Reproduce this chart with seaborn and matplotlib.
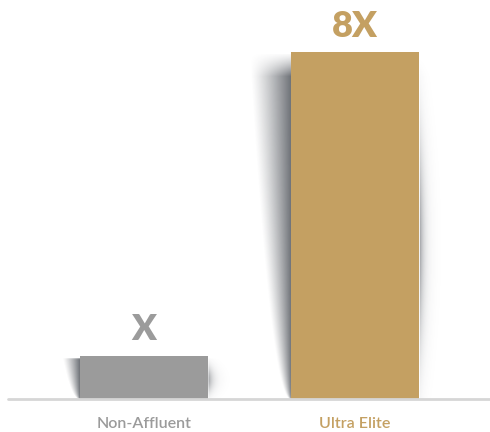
import numpy as np
import matplotlib
matplotlib.use("Agg")
import matplotlib.pyplot as plt
import seaborn as sns

# Chart data
categories = ["Non-Affluent", "Ultra Elite"]
values = [1, 8]
bar_colors = ["#9b9b9b", "#c4a062"]
label_colors = ["#9b9b9b", "#c4a062"]
value_labels = ["X" if v == 1 else f"{v}X" for v in values]

sns.set_theme(style="white")
plt.rcParams["font.family"] = ["Lato", "DejaVu Sans"]

W, H, DPI = 490, 432, 100
fig = plt.figure(figsize=(W / DPI, H / DPI), dpi=DPI)
fig.patch.set_facecolor("white")

ax_left, ax_bottom = 8, 33
ax_w, ax_h = W - ax_left, H - ax_bottom
ax = fig.add_axes([ax_left / W, ax_bottom / H, ax_w / W, ax_h / H])

sns.barplot(x=categories, y=values, hue=categories, palette=bar_colors,
            width=0.607, saturation=1, legend=False, ax=ax, zorder=3,
            linewidth=0, edgecolor="none")

unit_x = 211.0   # pixels between category centres
unit_y = 43.375  # pixels per value unit
x0 = -(144 - ax_left) / unit_x
ax.set_xlim(x0, x0 + ax_w / unit_x)
ax.set_ylim(0, ax_h / unit_y)

for s in ax.spines.values():
    s.set_visible(False)
ax.set_yticks([])
ax.axhline(0, color="#d6d6d6", lw=2, zorder=4, clip_on=False)

ax.set_xticks(range(len(categories)))
ax.set_xticklabels(categories, fontsize=11.5, fontweight="semibold")
for lab, c in zip(ax.get_xticklabels(), label_colors):
    lab.set_color(c)
ax.tick_params(axis="x", length=0, pad=13)
ax.set_xlabel("")
ax.set_ylabel("")

for i, (v, t, c) in enumerate(zip(values, value_labels, label_colors)):
    ax.annotate(t, (i, v), xytext=(0, 11), textcoords="offset points",
                ha="center", va="baseline", fontsize=26, fontweight="heavy",
                color=c)

# Soft drop shadows behind the bars, computed from the drawn bar extents
fig.canvas.draw()
alpha = np.zeros((ax_h, ax_w))
cols = np.arange(ax_w) + 0.5 + ax_left
rows = np.arange(ax_h) + 0.5 + ax_bottom
XX, YY = np.meshgrid(cols, rows)
for p in ax.patches:
    bb = p.get_window_extent()
    xl, xr, yb, yt = bb.x0, bb.x1, bb.y0, bb.y1
    hgt = yt - yb
    t = np.clip((yt - YY) / hgt, 0, 1)  # 0 at top, 1 at bottom
    inside = (YY <= yt - 2) & (YY >= yb)
    fade_in = np.clip((yt - YY) / max(hgt * 0.07, 4), 0, 1) ** 1.3
    # left wedge shadow
    ext0 = min(42.0, 14 + hgt * 0.08)
    ext = ext0 * np.sqrt(1 - t) + 0.5
    d = xl - XX
    a_left = np.where((d > 0) & inside,
                      0.7 * np.clip(1 - d / ext, 0, 1) ** 1.2 * fade_in, 0)
    # thin right shadow
    dr = XX - xr
    bell = np.exp(-((t - 0.55) / 0.3) ** 2)
    a_right = np.where((dr > 0) & inside,
                       0.45 * np.exp(-dr / 4.5) * bell * fade_in, 0)
    alpha = np.maximum(alpha, np.maximum(a_left, a_right))

img = np.zeros((ax_h, ax_w, 4))
img[..., 0] = 45 / 255
img[..., 1] = 50 / 255
img[..., 2] = 58 / 255
img[..., 3] = alpha
ax.imshow(img, origin="lower", extent=(*ax.get_xlim(), *ax.get_ylim()),
          aspect="auto", zorder=2, interpolation="bilinear")

fig.savefig("out.png", dpi=DPI, facecolor="white")
